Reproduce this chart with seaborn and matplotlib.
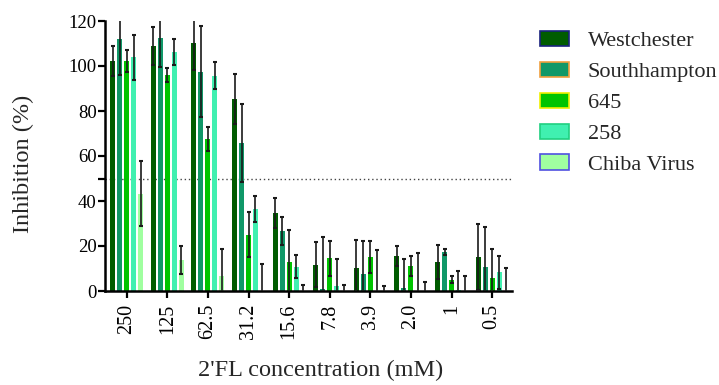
import matplotlib
matplotlib.use("Agg")
import matplotlib.pyplot as plt
import seaborn as sns
import pandas as pd
import numpy as np

# ---- data ----
concentrations = ["250", "125", "62.5", "31.2", "15.6", "7.8", "3.9", "2.0", "1", "0.5"]
series_names = ["Westchester", "Southhampton", "645", "258", "Chiba Virus"]

westchester = [102.2, 108.9, 110.2, 85.3, 34.7, 11.6, 10.1, 15.5, 12.8, 15.1]
westchester_sd = [6.6, 8.4, 12.0, 11.0, 6.7, 10.0, 12.7, 4.4, 7.6, 14.5]
southhampton = [112.0, 112.4, 97.5, 65.8, 26.7, 0.8, 7.5, 1.2, 17.3, 10.6]
southhampton_sd = [16.0, 13.0, 20.2, 17.5, 6.2, 23.0, 14.7, 13.0, 1.4, 18.0]
s645 = [102.2, 96.0, 67.6, 24.9, 12.9, 14.6, 15.1, 11.0, 5.1, 5.7]
s645_sd = [5.0, 3.0, 5.4, 10.0, 14.0, 7.8, 7.1, 4.4, 1.6, 12.8]
s258 = [104.0, 106.2, 95.7, 36.4, 10.7, 2.1, 0.0, 0.0, 0.6, 8.4]
s258_sd = [10.0, 5.7, 6.1, 5.7, 5.1, 12.0, 18.4, 16.9, 8.2, 7.3]
chiba = [43.3, 13.8, 6.8, 0.0, 0.0, 0.0, 0.0, 0.0, 0.0, 0.0]
chiba_sd = [14.5, 6.3, 12.0, 12.0, 2.7, 2.8, 2.2, 4.0, 6.7, 10.3]

y_ticks = [0, 20, 40, 50, 60, 80, 100, 120]
y_tick_labels = ["0", "20", "40", "", "60", "80", "100", "120"]

means = [westchester, southhampton, s645, s258, chiba]
sds = [westchester_sd, southhampton_sd, s645_sd, s258_sd, chiba_sd]

rows = []
for name, m, s in zip(series_names, means, sds):
    for c, v, e in zip(concentrations, m, s):
        rows.append({"conc": c, "series": name, "value": v, "sd": e})
df = pd.DataFrame(rows)

fill_colors = ["#005c00", "#109868", "#00c400", "#40f0b0", "#a0ffa0"]
edge_colors = ["#1a237e", "#f0a040", "#f0f000", "#20d080", "#5050e0"]
palette = dict(zip(series_names, fill_colors))

sns.set_style("ticks")
plt.rcParams["font.family"] = ["Liberation Serif", "DejaVu Serif"]

fig = plt.figure(figsize=(7.19, 3.85), dpi=100)
ax = fig.add_axes([105 / 719, 1 - 291 / 385, 407 / 719, 270 / 385])

ax.axhline(50, color="#444444", lw=1.0, ls=(0, (1, 2)), zorder=0)

sns.barplot(data=df, x="conc", y="value", hue="series", order=concentrations,
            hue_order=series_names, palette=palette, errorbar=None,
            width=0.86, gap=0.285, linewidth=0, saturation=1, ax=ax, zorder=2)

# error bars from the sd values at the bar centres
lookup = {(r.conc, r.series): (r.value, r.sd) for r in df.itertuples()}
for name, cont in zip(series_names, ax.containers):
    for i, bar in enumerate(cont):
        xc = bar.get_x() + bar.get_width() / 2
        ci = int(round(xc))
        v, e = lookup[(concentrations[ci], name)]
        ax.errorbar(xc, v, yerr=e, fmt="none", ecolor="#1a1a1a", elinewidth=1.2,
                    capsize=1.6, capthick=1.5, zorder=3)

ax.set_xlim(-0.535, 9.49)
ax.set_ylim(0, 120)
ax.set_yticks(y_ticks)
ax.set_yticklabels(y_tick_labels)
ax.tick_params(axis="both", which="both", direction="out", length=5, width=1.6,
               colors="black", pad=1)
ax.tick_params(axis="y", labelsize=13.5)
ax.tick_params(axis="x", labelrotation=90, pad=4, labelsize=14.5)
for sp in ["left", "bottom"]:
    ax.spines[sp].set_linewidth(1.8)
    ax.spines[sp].set_color("black")
sns.despine(ax=ax)

ax.set_xlabel("2'FL concentration (mM)", fontsize=17.5)
ax.set_ylabel("Inhibition (%)", fontsize=17.5)
ax.xaxis.set_label_coords(0.531, -0.255)
ax.yaxis.set_label_coords(-0.174, 0.47)

handles, labels = ax.get_legend_handles_labels()
if ax.get_legend() is not None:
    ax.get_legend().remove()
leg = fig.legend(handles, labels, loc="upper left", bbox_to_anchor=(540 / 719, 1 - 31 / 385),
                 frameon=False, fontsize=16, handlelength=1.3, handleheight=0.68,
                 labelspacing=0.47, handletextpad=0.85, borderpad=0, borderaxespad=0)
for h, ec in zip(leg.legend_handles, edge_colors):
    h.set_edgecolor(ec)
    h.set_linewidth(1.2)

fig.savefig("out.png", dpi=100)
